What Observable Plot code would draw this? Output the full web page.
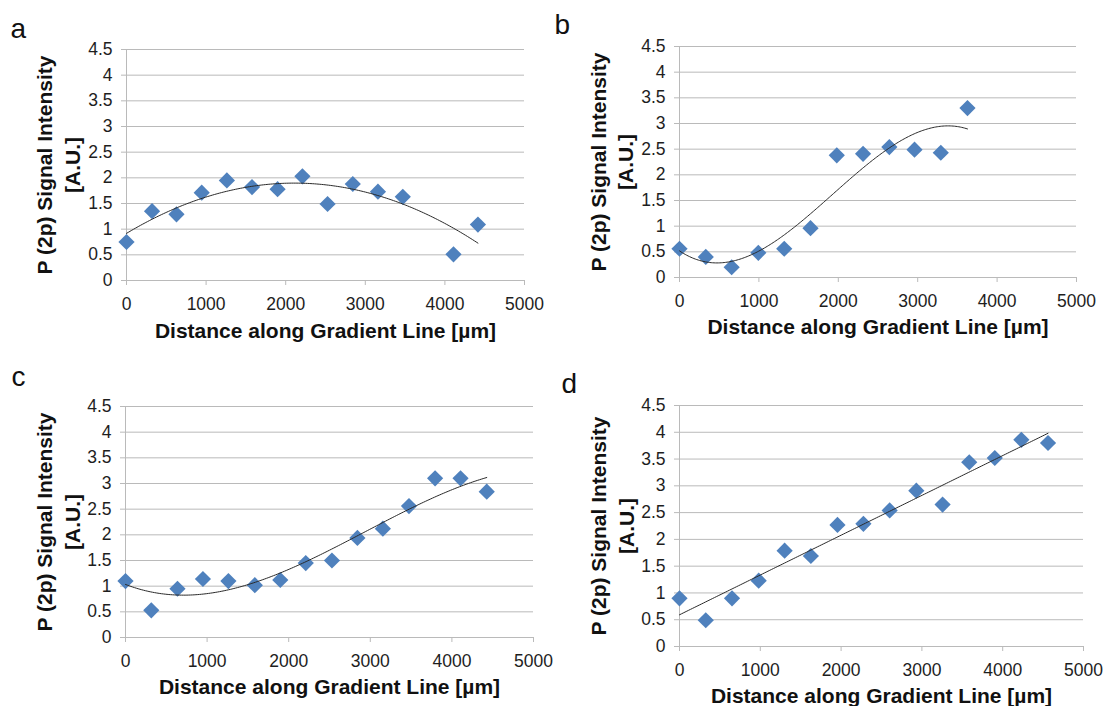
<!DOCTYPE html>
<html><head><meta charset="utf-8">
<script src="https://cdn.jsdelivr.net/npm/d3@7"></script>
<script src="https://cdn.jsdelivr.net/npm/@observablehq/plot@0.6"></script>
<style>
body{margin:0;background:#fff;}
#root{position:relative;width:1107px;height:706px;overflow:hidden;font-family:"Liberation Sans",Arial,sans-serif;}
.panel{position:absolute;}
.panel svg{overflow:visible;}
</style></head><body><div id="root"></div>
<script>
// ---- data ----
const xTicks = [0, 1000, 2000, 3000, 4000, 5000];
const yTicks = [0, 0.5, 1, 1.5, 2, 2.5, 3, 3.5, 4, 4.5];
const xLabel = "Distance along Gradient Line [µm]";
const yLabel = "P (2p) Signal Intensity\n[A.U.]";
const panelNames = ["a", "b", "c", "d"];

const xA = [0, 321, 628, 945, 1261, 1577, 1898, 2210, 2526, 2843, 3159, 3471, 4108, 4415];
const yA = [0.75, 1.35, 1.29, 1.71, 1.95, 1.82, 1.78, 2.03, 1.49, 1.88, 1.73, 1.63, 0.51, 1.09];

const xB = [0, 331, 657, 993, 1319, 1650, 1981, 2312, 2643, 2960, 3291, 3627];
const yB = [0.56, 0.40, 0.20, 0.48, 0.56, 0.96, 2.38, 2.41, 2.54, 2.49, 2.43, 3.30];

const xC = [0, 316, 637, 949, 1261, 1585, 1897, 2209, 2530, 2842, 3154, 3474, 3794, 4106, 4427];
const yC = [1.10, 0.53, 0.95, 1.14, 1.10, 1.02, 1.12, 1.45, 1.50, 1.94, 2.12, 2.56, 3.10, 3.10, 2.84];

const xD = [0, 325, 650, 980, 1301, 1626, 1955, 2276, 2601, 2931, 3256, 3586, 3902, 4231, 4561];
const yD = [0.90, 0.49, 0.90, 1.23, 1.79, 1.69, 2.27, 2.29, 2.54, 2.91, 2.65, 3.44, 3.52, 3.86, 3.80];

const trendOrders = [2, 3, 3, 1]; // polynomial trendline order per panel

// ---- helpers ----
function polyfit(xs, ys, deg) {
  const n = deg + 1, s = 1000;
  const A = Array.from({length: n}, () => new Array(n + 1).fill(0));
  xs.forEach((xv, k) => {
    const x = xv / s;
    const p = d3.range(n).map(i => Math.pow(x, i));
    for (let i = 0; i < n; i++) {
      for (let j = 0; j < n; j++) A[i][j] += p[i] * p[j];
      A[i][n] += p[i] * ys[k];
    }
  });
  for (let i = 0; i < n; i++) {
    let m = i;
    for (let r = i + 1; r < n; r++) if (Math.abs(A[r][i]) > Math.abs(A[m][i])) m = r;
    [A[i], A[m]] = [A[m], A[i]];
    for (let r = 0; r < n; r++) {
      if (r === i) continue;
      const f = A[r][i] / A[i][i];
      for (let c = i; c <= n; c++) A[r][c] -= f * A[i][c];
    }
  }
  const coef = A.map((row, i) => row[n] / row[i]);
  return x => coef.reduce((acc, c, i) => acc + c * Math.pow(x / s, i), 0);
}

const series = [[xA, yA], [xB, yB], [xC, yC], [xD, yD]];

const layout = [
  {left: 0,   top: 0,   width: 550, height: 350, mt: 49, mr: 26, mb: 70, ml: 126, xdy: 57, ydx: -47, tdx: -116, tdy: -12},
  {left: 550, top: 0,   width: 557, height: 350, mt: 46, mr: 31, mb: 73, ml: 129, xdy: 56, ydx: -46.5, tdx: -125, tdy: -13},
  {left: 0,   top: 350, width: 550, height: 356, mt: 56, mr: 17, mb: 69, ml: 125, xdy: 56, ydx: -46, tdx: -114, tdy: -21},
  {left: 550, top: 350, width: 557, height: 356, mt: 55, mr: 24, mb: 60, ml: 129, xdy: 56, ydx: -46, tdx: -118, tdy: -13}
];

const gridColor = "#bababa";
const textColor = "#1e1e1e";
const markerColor = "#4F81BD";
const root = document.getElementById("root");

series.forEach(([xs, ys], idx) => {
  const L = layout[idx];
  const pts = xs.map((x, i) => ({x, y: ys[i]}));
  const f = polyfit(xs, ys, trendOrders[idx]);
  const xmax = d3.max(xs);
  const trend = d3.range(0, xmax, xmax / 200).concat([xmax]).map(x => ({x, y: f(x)}));

  const chart = Plot.plot({
    width: L.width,
    height: L.height,
    marginTop: L.mt, marginRight: L.mr, marginBottom: L.mb, marginLeft: L.ml,
    style: {fontFamily: "'Liberation Sans', Arial, sans-serif", background: "transparent", color: textColor, overflow: "visible"},
    x: {domain: [0, 5000], label: null},
    y: {domain: [0, 4.5], label: null},
    marks: [
      Plot.gridY({ticks: yTicks, stroke: gridColor, strokeOpacity: 1}),
      Plot.ruleX([0], {stroke: gridColor}),
      Plot.axisY({ticks: yTicks, tickSize: 5, tickPadding: 9, stroke: gridColor, fill: textColor, fontSize: 17.5, tickFormat: d => String(d), label: null}),
      Plot.axisX({ticks: xTicks, tickSize: 5, tickPadding: 12.5, stroke: gridColor, fill: textColor, fontSize: 17.5, tickFormat: d => String(d), label: null}),
      Plot.dot(pts, {x: "x", y: "y", symbol: "diamond2", r: 7.3, fill: markerColor, stroke: "none"}),
      Plot.line(trend, {x: "x", y: "y", stroke: "#2a2a2a", strokeWidth: 1}),
      Plot.text([xLabel], {text: d => d, frameAnchor: "bottom", textAnchor: "middle", lineAnchor: "bottom", dy: L.xdy, fontSize: 21, fontWeight: "bold", fill: "#111"}),
      Plot.text([yLabel], {text: d => d, frameAnchor: "left", rotate: -90, textAnchor: "middle", lineAnchor: "bottom", lineHeight: 1.31, dx: L.ydx, fontSize: 21, fontWeight: "bold", fill: "#111"}),
      Plot.text([panelNames[idx]], {text: d => d, frameAnchor: "top-left", textAnchor: "start", lineAnchor: "bottom", dx: L.tdx, dy: L.tdy, fontSize: 28, fill: "#111"})
    ]
  });
  const div = document.createElement("div");
  div.className = "panel";
  div.style.left = L.left + "px";
  div.style.top = L.top + "px";
  div.style.width = L.width + "px";
  div.style.height = L.height + "px";
  div.appendChild(chart);
  root.appendChild(div);
});
</script>
</body></html>
